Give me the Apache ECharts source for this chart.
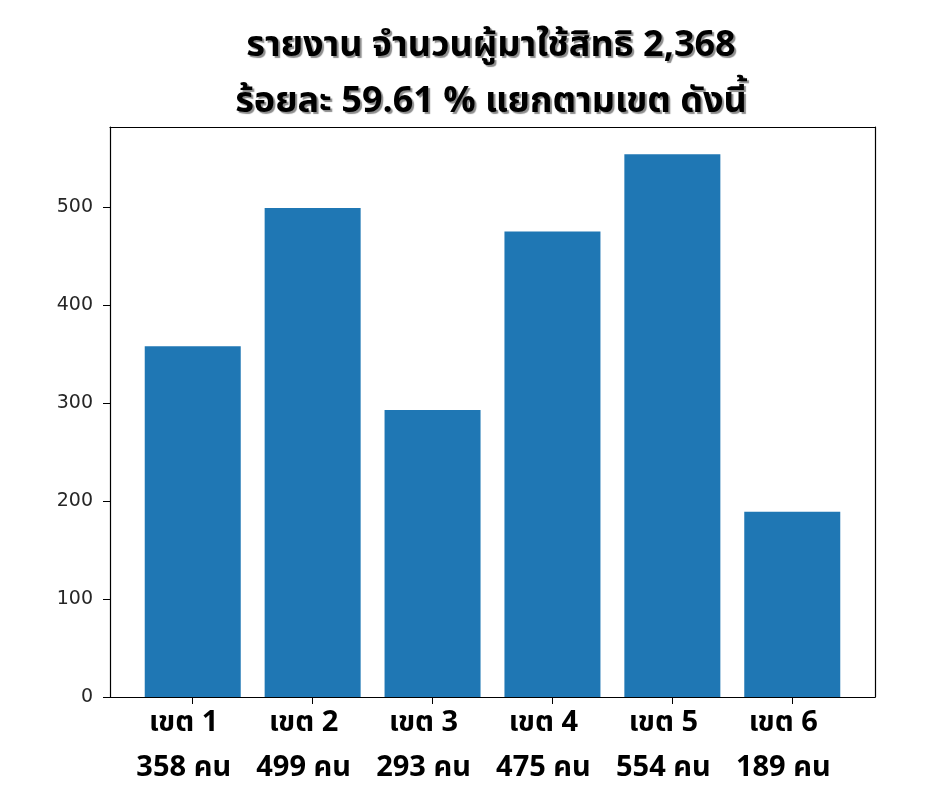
<!DOCTYPE html>
<html><head><meta charset="utf-8">
<script src="https://cdn.jsdelivr.net/npm/echarts@6/dist/echarts.min.js"></script>
<style>html,body{margin:0;padding:0;background:#fff}#c{width:940px;height:788px}</style>
</head><body><div id="c"></div>
<script>
const titleLines = ['รายงาน จำนวนผู้มาใช้สิทธิ 2,368', 'ร้อยละ 59.61 % แยกตามเขต ดังนี้'];
const categories = ['เขต 1', 'เขต 2', 'เขต 3', 'เขต 4', 'เขต 5', 'เขต 6'];
const values = [358, 499, 293, 475, 554, 189];
const unit = 'คน';
const yTicks = [0, 100, 200, 300, 400, 500];

const thaiFont = "'Noto Sans Thai','Noto Sans Thai Looped','Loma','Garuda','Noto Sans',sans-serif";
const positions = categories.map((_, i) => i);
const xMin = -0.4 - 0.05 * 5.8, xMax = 5.4 + 0.05 * 5.8;
const yMax = Math.max(...values) * 1.05;
const frameLine = { show: true, onZero: false, lineStyle: { color: '#000', width: 1.2 } };

const chart = echarts.init(document.getElementById('c'));
chart.setOption({
  animation: false,
  title: {
    text: titleLines.join('\n'),
    left: 486, top: 16, textAlign: 'center',
    textStyle: {
      fontFamily: thaiFont, fontSize: 36, fontWeight: 'bold', color: '#000', lineHeight: 56,
      textShadowColor: 'rgba(0,0,0,0.45)', textShadowOffsetX: 2, textShadowOffsetY: 2, textShadowBlur: 1
    }
  },
  grid: { left: 110, right: 65, top: 127, bottom: 91, containLabel: false, outerBoundsMode: 'none' },
  xAxis: [{
    type: 'value', min: xMin, max: xMax, position: 'bottom',
    splitLine: { show: false },
    axisLine: frameLine,
    axisTick: { show: true, length: 7, customValues: positions, lineStyle: { color: '#000' } },
    axisLabel: {
      customValues: positions, margin: 6, padding: [0, 18, 0, 0],
      formatter: v => categories[Math.round(v)] + '\n' + values[Math.round(v)] + ' ' + unit,
      fontFamily: thaiFont, fontSize: 29, fontWeight: 'bold', color: '#000', lineHeight: 45
    }
  }, {
    type: 'value', min: xMin, max: xMax, position: 'top',
    splitLine: { show: false }, axisTick: { show: false }, axisLabel: { show: false },
    axisLine: frameLine
  }],
  yAxis: [{
    type: 'value', min: 0, max: yMax, position: 'left',
    splitLine: { show: false },
    axisLine: frameLine,
    axisTick: { show: true, length: 7, customValues: yTicks, lineStyle: { color: '#000' } },
    axisLabel: { customValues: yTicks, margin: 17, fontFamily: "'DejaVu Sans',sans-serif", fontSize: 19, color: '#262626' }
  }, {
    type: 'value', min: 0, max: yMax, position: 'right',
    splitLine: { show: false }, axisTick: { show: false }, axisLabel: { show: false },
    axisLine: frameLine
  }],
  series: [{
    type: 'bar', xAxisIndex: 0, yAxisIndex: 0,
    data: values.map((v, i) => [positions[i], v]),
    barWidth: 96,
    itemStyle: { color: '#1f77b4' }
  }]
});
</script></body></html>
